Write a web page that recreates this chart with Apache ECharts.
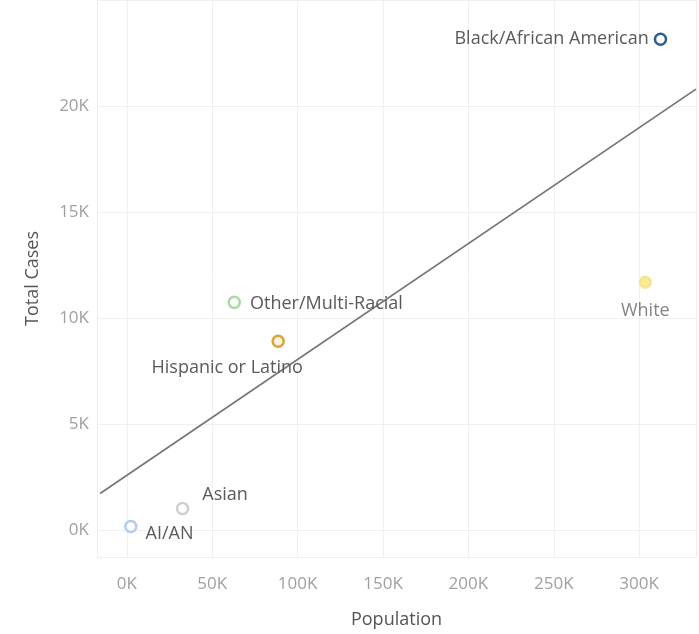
<!DOCTYPE html>
<html>
<head>
<meta charset="utf-8">
<script src="https://cdn.jsdelivr.net/npm/echarts@6/dist/echarts.min.js"></script>
<style>html,body{margin:0;padding:0;background:#fff;}#c{width:699px;height:634px;}</style>
</head>
<body>
<div id="c"></div>
<script>
var groups = ['Black/African American', 'White', 'Other/Multi-Racial', 'Hispanic or Latino', 'Asian', 'AI/AN'];
var population = [312500, 303600, 62900, 88600, 32600, 2300];
var totalCases = [23150, 11700, 10750, 8920, 1030, 190];
var colors = ['#2f5f8f', '#f6e27a', '#a8dca0', '#d9a43a', '#cfcfcf', '#b0cdea'];
var trendX = [-15700, 333300];
var trendY = [1740, 20800];
var xTicks = [0, 50000, 100000, 150000, 200000, 250000, 300000];
var yTicks = [0, 5000, 10000, 15000, 20000];

var labelPos = ['left', 'bottom', 'right', 'bottom', 'right', 'right'];
var labelOffset = [[0,0],[0,8],[4,2],[-51,6],[8,-14],[3,7]];

var chart = echarts.init(document.getElementById('c'));
var fmt = function(v){ return Math.round(v/1000) + 'K'; };
var series = groups.map(function(g, i){
  return {
    type: 'scatter',
    name: g,
    data: [[population[i], totalCases[i]]],
    symbol: 'circle',
    symbolSize: 11,
    itemStyle: {
      color: i === 1 ? colors[i] : (i === 3 ? '#fbf3dc' : '#fff'),
      borderColor: colors[i],
      borderWidth: 2.5,
      opacity: i === 1 ? 0.75 : 1
    },
    label: {
      show: true,
      formatter: g,
      position: labelPos[i],
      offset: labelOffset[i],
      color: '#5a5a5a',
      fontFamily: 'Open Sans',
      fontSize: 18
    },
    z: 3
  };
});
series.push({
  type: 'line',
  data: [[trendX[0], trendY[0]], [trendX[1], trendY[1]]],
  symbol: 'none',
  lineStyle: { color: '#777', width: 1.8 },
  silent: true,
  z: 2
});

chart.setOption({
  animation: false,
  grid: { left: 97, right: 0, top: 0, bottom: 74, containLabel: false },
  xAxis: {
    type: 'value',
    min: -17500,
    max: 333300,
    splitNumber: 7,
    minInterval: 50000,
    maxInterval: 50000,
    name: 'Population',
    nameLocation: 'middle',
    nameGap: 54,
    nameTextStyle: { color: '#555', fontSize: 18, fontFamily: 'Open Sans' },
    axisLine: { show: false },
    axisTick: { show: false },
    axisLabel: {
      color: '#a0a0a0', fontSize: 17, fontFamily: 'Open Sans', margin: 19,
      formatter: function(v){ return xTicks.indexOf(v) >= 0 ? fmt(v) : ''; }
    },
    splitLine: { show: true, lineStyle: { color: '#f0f0f0', width: 1 } }
  },
  yAxis: {
    type: 'value',
    min: -1250,
    max: 25000,
    splitNumber: 5,
    minInterval: 5000,
    maxInterval: 5000,
    name: 'Total Cases',
    nameLocation: 'middle',
    nameRotate: 90,
    nameGap: 55,
    nameTextStyle: { color: '#555', fontSize: 18, fontFamily: 'Open Sans' },
    axisLine: { show: false },
    axisTick: { show: false },
    axisLabel: {
      color: '#a0a0a0', fontSize: 17, fontFamily: 'Open Sans', margin: 8,
      formatter: function(v){ return yTicks.indexOf(v) >= 0 ? fmt(v) : ''; }
    },
    splitLine: { show: true, lineStyle: { color: '#f0f0f0', width: 1 } }
  },
  series: series
});
</script>
</body>
</html>
